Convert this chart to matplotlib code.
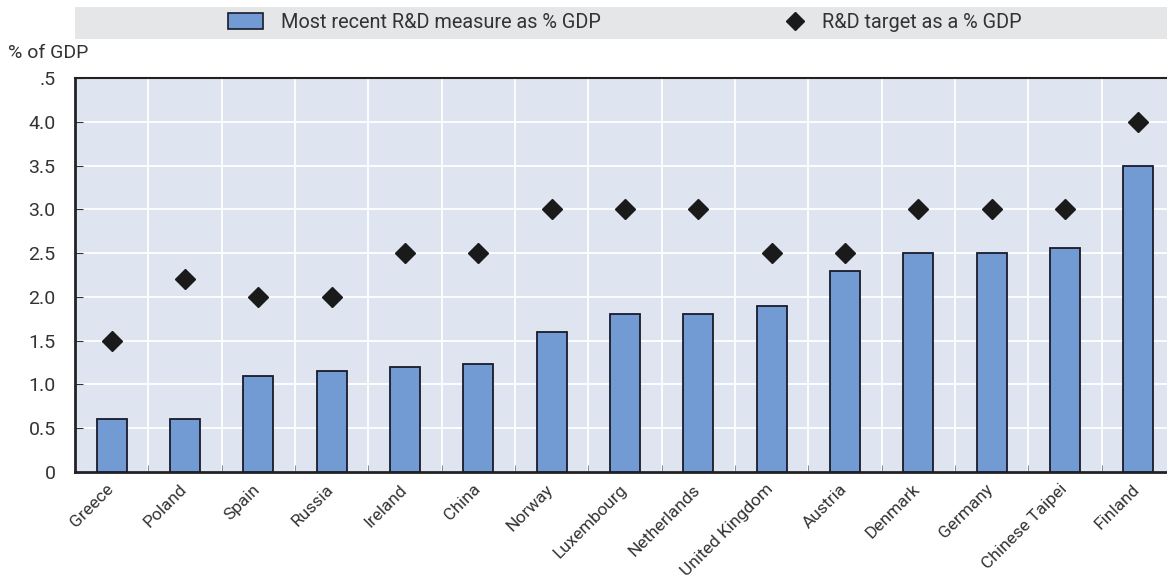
import numpy as np
import matplotlib.pyplot as plt
from matplotlib.patches import Rectangle
from matplotlib.lines import Line2D
from matplotlib.transforms import ScaledTranslation

plt.rcParams['font.family'] = ['Roboto', 'DejaVu Sans']

countries = ['Greece', 'Poland', 'Spain', 'Russia', 'Ireland', 'China', 'Norway',
             'Luxembourg', 'Netherlands', 'United Kingdom', 'Austria', 'Denmark',
             'Germany', 'Chinese Taipei', 'Finland']
recent = [0.6, 0.6, 1.1, 1.15, 1.2, 1.23, 1.6, 1.8, 1.8, 1.9, 2.3, 2.5, 2.5, 2.56, 3.5]
target = [1.5, 2.2, 2.0, 2.0, 2.5, 2.5, 3.0, 3.0, 3.0, 2.5, 2.5, 3.0, 3.0, 3.0, 4.0]
yticks = [0, 0.5, 1.0, 1.5, 2.0, 2.5, 3.0, 3.5, 4.0, 4.5]
ylabels = ['0', '0.5', '1.0', '1.5', '2.0', '2.5', '3.0', '3.5', '4.0', '.5']

bar_col = '#729bd3'
bg_col = '#dfe4f1'
txt_col = '#333333'

fig = plt.figure(figsize=(11.67, 5.79), dpi=100)
W, H = 1167, 579
# axes spans past the right edge, as in the original (cropped)
ax = fig.add_axes([75 / W, 1 - 472 / H, 1100 / W, 394 / H])
ax.set_facecolor(bg_col)

x = np.arange(len(countries))
ax.bar(x, recent, width=0.41, color=bar_col, edgecolor='#1a1a2a', linewidth=1.3, zorder=3)
ax.plot(x, target, linestyle='none', marker='D', markersize=10, color='#1a1a1a', zorder=4)

ax.set_xlim(-0.5, len(countries) - 0.5)
ax.set_ylim(0, 4.5)
ax.set_yticks(yticks)
ax.set_yticklabels(ylabels, fontsize=14, color=txt_col)
ax.set_xticks(x)
ax.set_xticklabels(countries, rotation=45, ha='right', va='top', rotation_mode='anchor',
                   fontsize=12.5, color=txt_col)
ax.tick_params(axis='x', length=0, pad=7)
ax.set_xticks(np.arange(0.5, len(countries) - 0.5, 1), minor=True)
ax.tick_params(axis='x', which='minor', direction='in', length=5, color='#777777')
ax.tick_params(axis='y', direction='in', length=6, color='#333333', pad=14)

ax.grid(True, which='minor', axis='x', color='white', linewidth=1.3, zorder=0)
ax.grid(True, which='major', axis='y', color='white', linewidth=1.3, zorder=0)
ax.set_axisbelow(True)

ax.spines['right'].set_visible(False)
for s in ['left', 'bottom', 'top']:
    ax.spines[s].set_color('#222222')
    ax.spines[s].set_linewidth(2)
ax.spines['top'].set_linewidth(1.5)

# nudge rotated labels left so they end under the bar
for lab in ax.get_xticklabels():
    lab.set_transform(lab.get_transform() + ScaledTranslation(-6 / 100, 0, fig.dpi_scale_trans))

fig.text(8 / W, 1 - 53 / H, '% of GDP', fontsize=14, color=txt_col, va='center')

# legend band
fig.patches.append(Rectangle((75 / W, 1 - 39 / H), 1 - 75 / W, 32 / H,
                             transform=fig.transFigure, facecolor='#e5e6e8',
                             edgecolor='none', zorder=0))
h1 = Rectangle((0, 0), 1, 1, facecolor=bar_col, edgecolor='#1a1a2a', linewidth=1.2)
h2 = Line2D([], [], linestyle='none', marker='D', markersize=9, color='#1a1a1a')
leg1 = fig.legend([h1], ['Most recent R&D measure as % GDP'], loc='center left',
                  bbox_to_anchor=(228 / W, 1 - 22 / H), frameon=False, fontsize=14.3,
                  handlelength=1.75, handleheight=0.85, handletextpad=0.9, borderpad=0,
                  borderaxespad=0)
leg2 = fig.legend([h2], ['R&D target as a % GDP'], loc='center left',
                  bbox_to_anchor=(786 / W, 1 - 22 / H), frameon=False, fontsize=14.3,
                  handlelength=0.9, handletextpad=0.9, borderpad=0, borderaxespad=0)
for lg in (leg1, leg2):
    for t in lg.get_texts():
        t.set_color(txt_col)

fig.savefig('out.png', dpi=100)
